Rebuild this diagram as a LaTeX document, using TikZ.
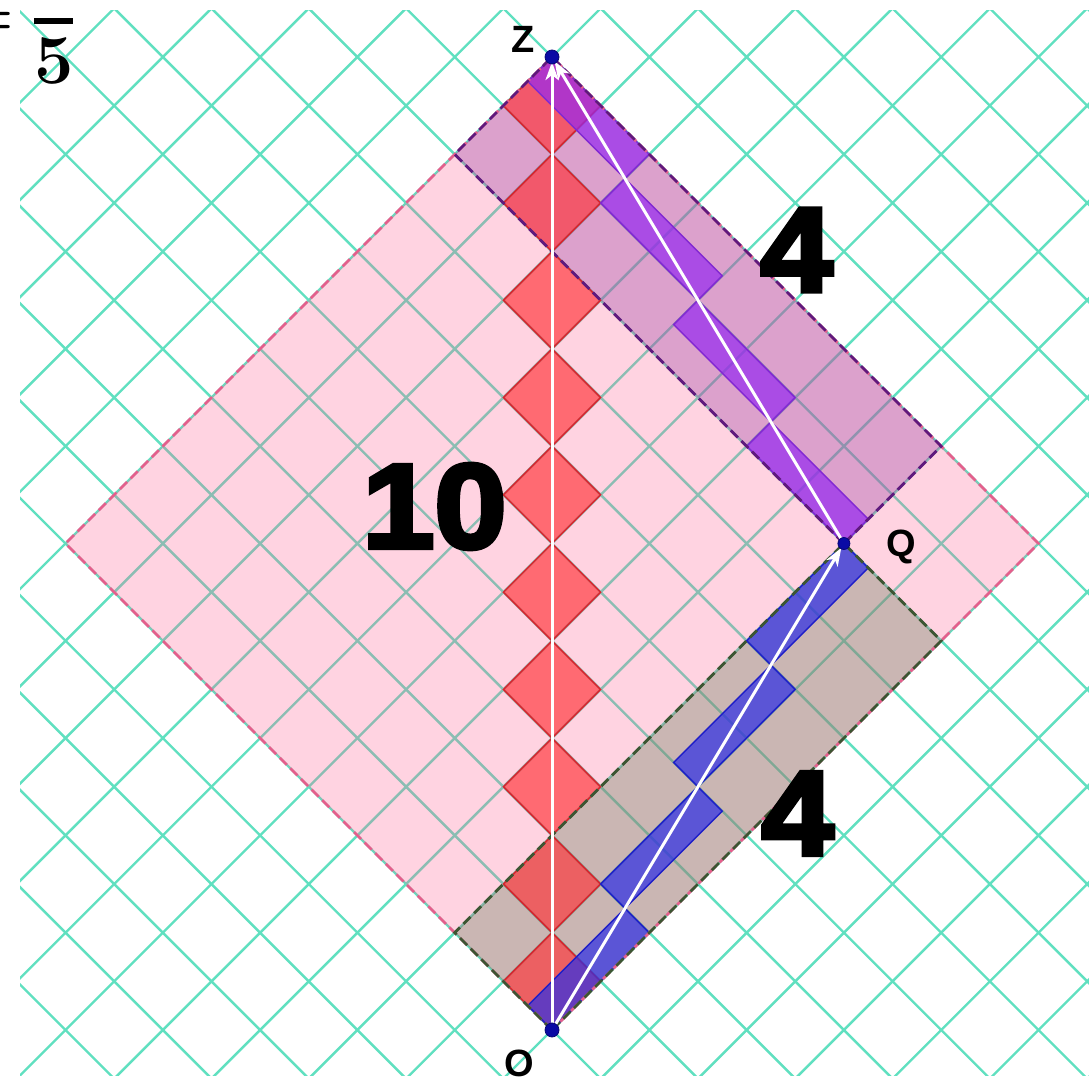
\documentclass[tikz,border=0pt]{standalone}
\usepackage{fontspec}
\usetikzlibrary{arrows.meta}
\newfontfamily\labfont{Liberation Sans Bold}
\newfontfamily\heavyfont{Liberation Sans Bold}[FakeBold=4,FakeStretch=1.08]

\definecolor{gridc}{RGB}{96,224,192}
\definecolor{pinkf}{RGB}{255,95,145}
\definecolor{pinkd}{RGB}{228,95,140}
\definecolor{brownf}{RGB}{106,130,95}
\definecolor{brownd}{RGB}{60,85,50}
\definecolor{purpf}{RGB}{155,70,166}
\definecolor{purpd}{RGB}{95,25,125}
\definecolor{redf}{RGB}{255,50,55}
\definecolor{redd}{RGB}{215,35,45}
\definecolor{bluef}{RGB}{45,45,230}
\definecolor{blued}{RGB}{30,30,200}
\definecolor{tickf}{RGB}{150,40,240}
\definecolor{tickd}{RGB}{130,40,210}
\definecolor{dotc}{RGB}{10,10,165}

\tikzset{
  lc/.style={shift={(552pt,53pt)}, rotate=45, x=68.8pt, y=68.8pt},
  gridline/.style={draw=gridc, line width=2.4pt},
  pinksq/.style={fill=pinkf, fill opacity=0.27},
  brownbox/.style={fill=brownf, fill opacity=0.35},
  purpbox/.style={fill=purpf, fill opacity=0.35},
  reddia/.style={fill=redf, fill opacity=0.65, draw=redd, line width=1.4pt},
  bluebox/.style={fill=bluef, fill opacity=0.7, draw=blued, line width=1.4pt},
  tickbox/.style={fill=tickf, fill opacity=0.7, draw=tickd, line width=1.4pt},
  pinkdash/.style={draw=pinkd, line width=2.8pt, dash pattern=on 10pt off 5pt},
  browndash/.style={draw=brownd, line width=2.8pt, dash pattern=on 10pt off 5pt},
  purpdash/.style={draw=purpd, line width=2.8pt, dash pattern=on 10pt off 5pt},
  worldline/.style={draw=white, line width=3pt, shorten >=5pt,
    -{Stealth[length=18pt,width=13pt,inset=5pt]}},
  evdot/.style={circle, inner sep=0pt, minimum size=14pt, fill=dotc, draw=dotc!70!black, line width=0.8pt},
  evlabel/.style={font=\labfont\fontsize{38}{38}\selectfont, inner sep=0pt, anchor=base},
  biglabel/.style={font=\heavyfont\fontsize{120}{120}\selectfont, inner sep=0pt, anchor=center},
}

\begin{document}
\begin{tikzpicture}[x=1pt,y=1pt]
\useasboundingbox (0,0) rectangle (1089,1083);
\fill[white] (0,0) rectangle (1089,1083);

% light-cone grid
\begin{scope}
  \clip (20,7) rectangle (1089,1072);
  \begin{scope}[lc]
    \foreach \k in {-7,...,17} {
      \draw[gridline] (\k,-8) -- (\k,18);
      \draw[gridline] (-8,\k) -- (18,\k);
    }
  \end{scope}
\end{scope}

\begin{scope}[lc]
  % regions
  \path[pinksq] (0,0) rectangle (10,10);
  \path[brownbox] (0,0) rectangle (8,2);
  \path[purpbox] (8,2) rectangle (10,10);
  % stationary clock ticks
  \foreach \k in {0,...,9} \filldraw[reddia] (\k,\k) rectangle ++(1,1);
  % moving clock ticks, outbound
  \foreach \k in {0,...,3} \filldraw[bluebox] ({2*\k},{0.5*\k}) rectangle ++(2,0.5);
  % moving clock ticks, return
  \foreach \k in {0,...,3} \filldraw[tickbox] ({8+0.5*\k},{2+2*\k}) rectangle ++(0.5,2);
  % dashed borders
  \draw[pinkdash] (0,0) rectangle (10,10);
  \draw[browndash] (0,0) rectangle (8,2);
  \draw[purpdash] (8,2) rectangle (10,10);
  % events
  \coordinate (O) at (0,0);
  \coordinate (Q) at (8,2);
  \coordinate (Z) at (10,10);
  \draw[worldline] (O) -- (Z);
  \draw[worldline] (O) -- (Q);
  \draw[worldline] (Q) -- (Z);
  \node[evdot] (Odot) at (O) {};
  \node[evdot, minimum size=12pt] (Qdot) at (Q) {};
  \node[evdot] (Zdot) at (Z) {};
\end{scope}

% event labels
\node[evlabel] (Zlab) at (523,1030) {Z};
\node[evlabel] (Qlab) at (901,526) {Q};
\node[evlabel] (Olab) at (519,6) {O};

% proper times
\node[biglabel] (tten) at (434.5,576.5) {10};
\node[biglabel] (tfourup) at (796.5,833) {4};
\node[biglabel] (tfourdn) at (797.5,269.5) {4};

% cut-off fraction at top left
\node[font=\fontsize{60}{60}\selectfont\bfseries, inner sep=0pt, anchor=base east] (eqs) at (14,1047) {=};
\fill[black] (34,1059) rectangle (73,1065);
\node[font=\fontsize{70}{70}\selectfont\bfseries, inner sep=0pt, anchor=center] (five) at (54,1022.5) {5};
\end{tikzpicture}
\end{document}
